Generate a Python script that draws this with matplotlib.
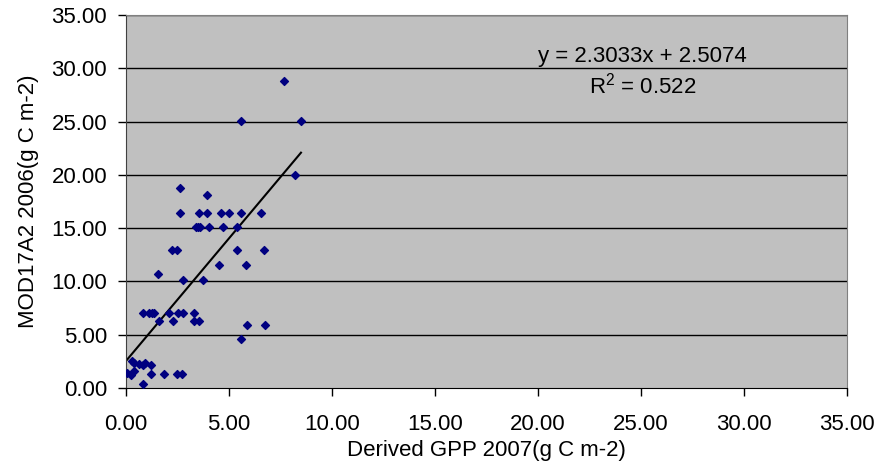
import numpy as np
import matplotlib.pyplot as plt

plt.rcParams['font.family'] = ['Liberation Sans', 'DejaVu Sans']

# derived GPP 2007 (x) vs MOD17A2 2006 (y)
gpp_2007 = [7.69, 5.61, 8.50, 8.22, 2.65, 3.95,
            2.65, 3.56, 3.92, 4.64, 5.02, 5.58, 6.57,
            3.40, 3.48, 3.59, 4.05, 4.71, 5.40,
            2.22, 2.49, 5.40, 6.71,
            4.53, 5.81, 1.57, 2.75, 3.75,
            0.81, 1.13, 1.28, 1.39, 2.09, 2.54, 2.78, 3.33,
            1.60, 2.30, 3.33, 3.53,
            5.86, 6.76, 5.60,
            0.32, 0.42, 0.65, 0.81, 0.91, 1.21,
            0.06, 0.23, 0.42,
            1.21, 1.86, 2.49, 2.73,
            0.81]
mod_2006 = [28.86, 25.07, 25.07, 19.98, 18.73, 18.10,
            16.39, 16.39, 16.39, 16.39, 16.39, 16.39, 16.39,
            15.13, 15.13, 15.13, 15.13, 15.13, 15.13,
            12.95, 12.95, 12.95, 12.95,
            11.54, 11.54, 10.66, 10.13, 10.13,
            7.03, 7.03, 7.03, 7.03, 7.03, 7.03, 7.03, 7.03,
            6.25, 6.25, 6.25, 6.25,
            5.94, 5.94, 4.63,
            2.56, 2.38, 2.25, 2.16, 2.32, 2.13,
            1.38, 1.25, 1.56,
            1.34, 1.34, 1.34, 1.34,
            0.34]

slope = 2.3033
intercept = 2.5074
r2 = 0.522

ticks = np.arange(0, 35.1, 5)
fs = 16

fig = plt.figure(figsize=(8.8, 4.73), dpi=100)
ax = fig.add_axes([0.143, 0.180, 0.8195, 0.788])
ax.set_facecolor('#C0C0C0')

for t in ticks[1:]:
    ax.axhline(t, color='black', linewidth=1.0, zorder=1)

ax.scatter(gpp_2007, mod_2006, marker='D', s=16, color='#000080', zorder=3)

xl = np.array([min(gpp_2007), max(gpp_2007)])
ax.plot(xl, slope * xl + intercept, color='black', linewidth=1.5, zorder=2)

ax.text(25.07, 30.6, 'y = %.4fx + %.4f' % (slope, intercept), ha='center', va='baseline', fontsize=fs)
ax.text(25.07, 27.67, '$\\mathregular{R^2}$ = %.3f' % r2, ha='center', va='baseline', fontsize=fs)

ax.set_xlim(0, 35)
ax.set_ylim(0, 35)
ax.set_xticks(ticks)
ax.set_yticks(ticks)
ax.set_xticklabels(['%.2f' % t for t in ticks], fontsize=fs)
ax.set_yticklabels(['%.2f' % t for t in ticks], fontsize=fs)
ax.tick_params(direction='out', length=5.5, width=1, colors='black')
ax.tick_params(axis='x', pad=13)
ax.tick_params(axis='y', pad=8)
ax.set_xlabel('Derived GPP 2007(g C m-2)', fontsize=fs, labelpad=4)
ax.set_ylabel('MOD17A2 2006(g C m-2)', fontsize=fs, labelpad=9)

for s in ['top', 'right']:
    ax.spines[s].set_color('#808080')
ax.spines['left'].set_color('#404040')
ax.spines['bottom'].set_color('black')

fig.savefig('out.png', dpi=100)
